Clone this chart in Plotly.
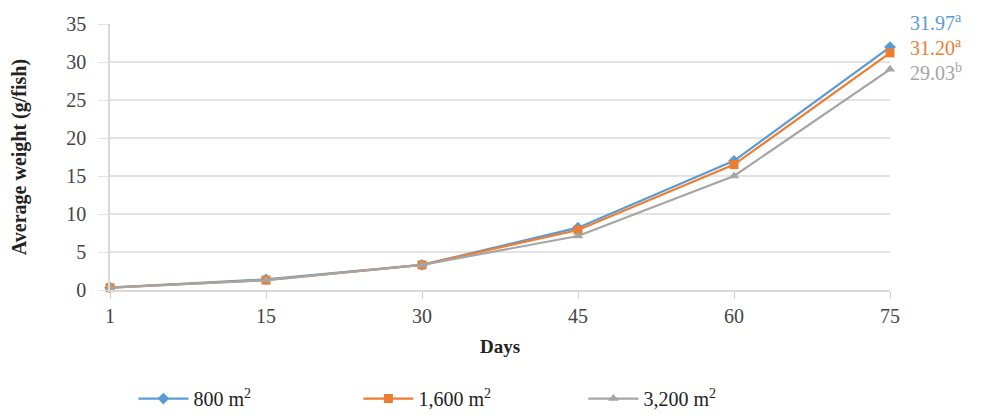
import plotly.graph_objects as go

days = ["1", "15", "30", "45", "60", "75"]
w800 = [0.3, 1.4, 3.3, 8.2, 17.0, 31.97]
w1600 = [0.3, 1.3, 3.3, 7.9, 16.5, 31.20]
w3200 = [0.3, 1.3, 3.3, 7.1, 15.0, 29.03]
series_names = ["800 m<sup>2</sup>", "1,600 m<sup>2</sup>", "3,200 m<sup>2</sup>"]
end_labels = ["31.97<sup>a</sup>", "31.20<sup>a</sup>", "29.03<sup>b</sup>"]
y_ticks = [0, 5, 10, 15, 20, 25, 30, 35]

colors = ["#5B9BD5", "#ED7D31", "#A5A5A5"]
symbols = ["diamond", "square", "triangle-up"]
FONT = "Times New Roman"

xpos = list(range(len(days)))
fig = go.Figure()
for vals, name, col, sym in zip([w800, w1600, w3200], series_names, colors, symbols):
    fig.add_trace(go.Scatter(
        x=xpos, y=vals, name=name, mode="lines+markers",
        line=dict(color=col, width=2.2),
        marker=dict(symbol=sym, size=9, color=col),
        cliponaxis=False,
    ))

label_y = [1.008, 0.913, 0.82]
for txt, col, ly in zip(end_labels, colors, label_y):
    fig.add_annotation(x=1.023, xref="paper", y=ly, yref="paper", text=txt,
                       showarrow=False, xanchor="left", yanchor="middle",
                       font=dict(family=FONT, size=20, color=col))

fig.update_layout(
    width=986, height=408,
    margin=dict(l=102, r=104, t=16, b=126, autoexpand=False),
    plot_bgcolor="white", paper_bgcolor="white",
    font=dict(family=FONT, size=19, color="#333333"),
    showlegend=True,
    legend=dict(orientation="h", x=0.03, xanchor="left", y=-0.335, yanchor="top",
                font=dict(family=FONT, size=20, color="#222222"),
                itemwidth=50,
                entrywidth=160, entrywidthmode="pixels"),
    xaxis=dict(range=[0, 5], tickvals=xpos, ticktext=days, showgrid=False,
               ticks="outside", ticklen=7, tickcolor="#D0D0D0", zeroline=False,
               showline=True, linecolor="#D9D9D9", linewidth=1.5,
               title=dict(text="<b>Days</b>", font=dict(family=FONT, size=19, color="#222222"), standoff=14),
               tickfont=dict(family=FONT, size=20, color="#444444")),
    yaxis=dict(range=[0, 35], tickvals=y_ticks, showgrid=True, gridcolor="#E3E3E3", gridwidth=1.5,
               zeroline=False, showline=True, linecolor="#D9D9D9", linewidth=1.5,
               ticks="outside", ticklen=10, tickcolor="#E3E3E3",
               ticklabelstandoff=8,
               title=dict(text="<b>Average weight (g/fish)</b>", font=dict(family=FONT, size=20, color="#222222"), standoff=36),
               tickfont=dict(family=FONT, size=20, color="#444444")),
)
fig.write_html("out.html")
